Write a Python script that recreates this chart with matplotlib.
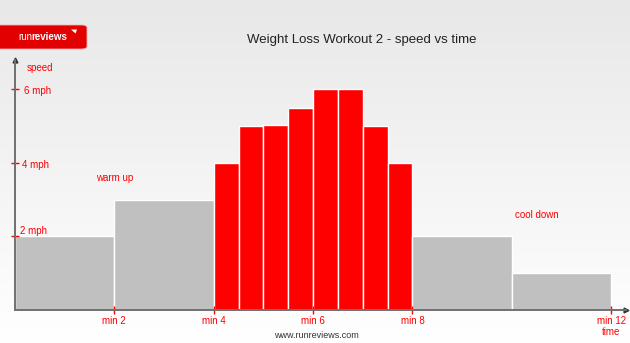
import numpy as np
import matplotlib.pyplot as plt
from matplotlib.patches import FancyBboxPatch, Polygon

plt.rcParams['font.family'] = ['Liberation Sans', 'DejaVu Sans']

# data: segment start (min), width (min), speed (mph)
warm_start = [0, 2]
warm_width = [2, 2]
warm_speed = [2.0, 3.0]

run_start = [4.0, 4.5, 5.0, 5.5, 6.0, 6.5, 7.0, 7.5]
run_width = [0.5] * 8
run_speed = [4.0, 5.0, 5.03, 5.5, 6.0, 6.0, 5.0, 4.0]

cool_start = [8, 10]
cool_width = [2, 2]
cool_speed = [2.0, 1.0]

xticks = [2, 4, 6, 8, 12]
xlabels = ["min 2", "min 4", "min 6", "min 8", "min 12"]
yticks = [2, 4, 6]
ylabels = ["2 mph", "4 mph", "6 mph"]

red = '#ff0000'
grey = '#c0c0c0'

fig = plt.figure(figsize=(6.3, 3.43), dpi=100)

# background gradient
bg = fig.add_axes([0, 0, 1, 1], zorder=0)
grad = np.linspace(0.91, 1.0, 256).reshape(-1, 1)
bg.imshow(np.dstack([grad, grad, grad]), aspect='auto', extent=[0, 1, 0, 1])
bg.set_xlim(0, 1)
bg.set_ylim(0, 1)
bg.axis('off')

# logo box
logo = FancyBboxPatch((-0.02, 1 - 49 / 343), 87 / 630 + 0.02, 24 / 343,
                      boxstyle="round,pad=0,rounding_size=0.008",
                      transform=bg.transAxes, facecolor='#e20000',
                      edgecolor='#f5b0b0', linewidth=0.6, zorder=2)
bg.add_patch(logo)
bg.text(18 / 630, 1 - 37 / 343, "run", color='white', fontsize=7,
        ha='left', va='center', zorder=3)
bg.text(31.5 / 630, 1 - 37 / 343, "reviews", color='white', fontsize=7,
        fontweight='bold', ha='left', va='center', zorder=3)
bg.add_patch(Polygon([[71 / 630, 1 - 29.5 / 343], [77 / 630, 1 - 29.5 / 343],
                      [75.5 / 630, 1 - 33.5 / 343]], closed=True,
                     facecolor='white', edgecolor='none', zorder=3))

# title and footer
fig.text(362 / 630, 1 - 40 / 343, "Weight Loss Workout 2 - speed vs time",
         fontsize=9.5, color='#222222', ha='center', va='center')
fig.text(316 / 630, 1 - 336 / 343, "www.runreviews.com",
         fontsize=6.5, color='#333333', ha='center', va='center')

# main axes: x 0..12.3 min, y 0..6.8 mph
ax = fig.add_axes([15 / 630, 33 / 343, 611 / 630, 250 / 343], zorder=1)
ax.patch.set_alpha(0)
ax.set_xlim(0, 12.3)
ax.set_ylim(0, 6.8)

ax.bar(warm_start, warm_speed, width=warm_width, align='edge',
       color=grey, edgecolor='white', linewidth=1.0)
ax.bar(run_start, run_speed, width=run_width, align='edge',
       color=red, edgecolor='white', linewidth=1.0)
ax.bar(cool_start, cool_speed, width=cool_width, align='edge',
       color=grey, edgecolor='white', linewidth=1.0)

for s in ['top', 'right']:
    ax.spines[s].set_visible(False)
for s in ['left', 'bottom']:
    ax.spines[s].set_color('#707070')
    ax.spines[s].set_linewidth(1.4)

# arrow heads
ax.plot(1, 0, '>', color='#333333', markersize=3.5, transform=ax.transAxes, clip_on=False)
ax.plot(0, 1, '^', color='#333333', markersize=3.5, transform=ax.transAxes, clip_on=False)

ax.set_xticks(xticks)
ax.set_xticklabels(xlabels)
ax.set_yticks(yticks)
ax.set_yticklabels([])
ax.tick_params(axis='x', colors=red, direction='inout', length=6, width=1,
               labelsize=7, pad=1.5)
ax.tick_params(axis='y', colors=red, direction='inout', length=6, width=1)

# y labels drawn to the right of the axis
yoff = {2: 0.15, 4: -0.05, 6: -0.05}
for v, lab in zip(yticks, ylabels):
    ax.text(0.1 + (v - 2) * 0.02, v + yoff[v], lab, color=red, fontsize=7,
            ha='left', va='center')
ax.text(0.24, 6.58, "speed", color=red, fontsize=7, ha='left', va='center')
ax.text(12.0, -0.6, "time", color=red, fontsize=7, ha='center', va='center', clip_on=False)

ax.text(2.0, 3.58, "warm up", color=red, fontsize=7, ha='center', va='center')
ax.text(10.5, 2.58, "cool down", color=red, fontsize=7, ha='center', va='center')

fig.savefig("out.png", dpi=100)
